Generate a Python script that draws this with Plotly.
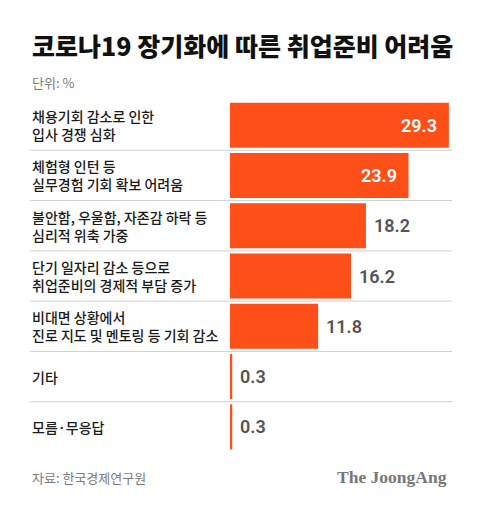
import plotly.graph_objects as go

title = "코로나19 장기화에 따른 취업준비 어려움"
unit = "단위: %"
source = "자료: 한국경제연구원"
brand = "The JoongAng"

categories = [
    "채용기회 감소로 인한<br>입사 경쟁 심화",
    "체험형 인턴 등<br>실무경험 기회 확보 어려움",
    "불안함, 우울함, 자존감 하락 등<br>심리적 위축 가중",
    "단기 일자리 감소 등으로<br>취업준비의 경제적 부담 증가",
    "비대면 상황에서<br>진로 지도 및 멘토링 등 기회 감소",
    "기타",
    "모름·무응답",
]
values = [29.3, 23.9, 18.2, 16.2, 11.8, 0.3, 0.3]

BAR = "#FF4F19"
KR = "Noto Sans CJK KR"

W, H = 480, 505
L, R, T, B = 230, 28, 100, 53
plot_w = W - L - R
plot_h = H - T - B
px_per_unit = 7.47
xmax = plot_w / px_per_unit
label_x = (30 - L) / plot_w


def px(xp, yp):
    return (xp - L) / plot_w, (H - yp - B) / plot_h


fig = go.Figure(go.Bar(
    x=values,
    y=list(range(len(values))),
    orientation="h",
    marker=dict(color=BAR, line=dict(width=0)),
    hoverinfo="skip",
))

annotations = []
for i, c in enumerate(categories):
    annotations.append(dict(
        x=label_x, xref="paper", y=i, yref="y", text=c,
        xanchor="left", yanchor="middle", align="left", showarrow=False,
        font=dict(family=KR, size=14, color="#1a1a1a", weight=500),
    ))

for i, v in enumerate(values):
    inside = v > 20
    annotations.append(dict(
        x=v, xref="x", y=i, yref="y", text=f"{v:.1f}",
        xanchor="right" if inside else "left", yanchor="middle",
        xshift=-10 if inside else 6, showarrow=False,
        font=dict(family="Roboto, " + KR, size=18,
                  color="white" if inside else "#555555", weight=600),
    ))

for text, xp, yp, size, color, weight in [
    (title, 30, 45, 25, "#111111", 900),
    (unit, 30, 82, 13, "#7a7a7a", 400),
    (source, 30, 477, 13, "#7a7a7a", 400),
]:
    x, y = px(xp, yp)
    annotations.append(dict(
        xref="paper", yref="paper", x=x, y=y, xanchor="left", yanchor="middle",
        text=text, showarrow=False,
        font=dict(family=KR, size=size, color=color, weight=weight),
    ))

bx, by = px(449, 477)
annotations.append(dict(
    xref="paper", yref="paper", x=bx, y=by, xanchor="right", yanchor="middle",
    text="<b>" + brand + "</b>", showarrow=False,
    font=dict(family="Liberation Serif, DejaVu Serif", size=17.5, color="#777777"),
))

shapes = []
for i in range(len(values) - 1):
    shapes.append(dict(
        type="line", xref="paper", yref="y", x0=label_x, x1=1,
        y0=i + 0.5, y1=i + 0.5, line=dict(color="#d0d0d0", width=1), layer="below",
    ))

fig.update_layout(
    width=W, height=H,
    margin=dict(l=L, r=R, t=T, b=B, pad=0),
    paper_bgcolor="white", plot_bgcolor="white",
    bargap=0.105,
    showlegend=False,
    xaxis=dict(range=[0, xmax], visible=False, fixedrange=True),
    yaxis=dict(range=[len(values) - 0.5, -0.5], visible=False, fixedrange=True),
    annotations=annotations,
    shapes=shapes,
)

fig.write_html(
    "out.html",
    config={"displayModeBar": False},
    post_script="document.body.style.margin='0';document.body.style.overflow='hidden';",
)
